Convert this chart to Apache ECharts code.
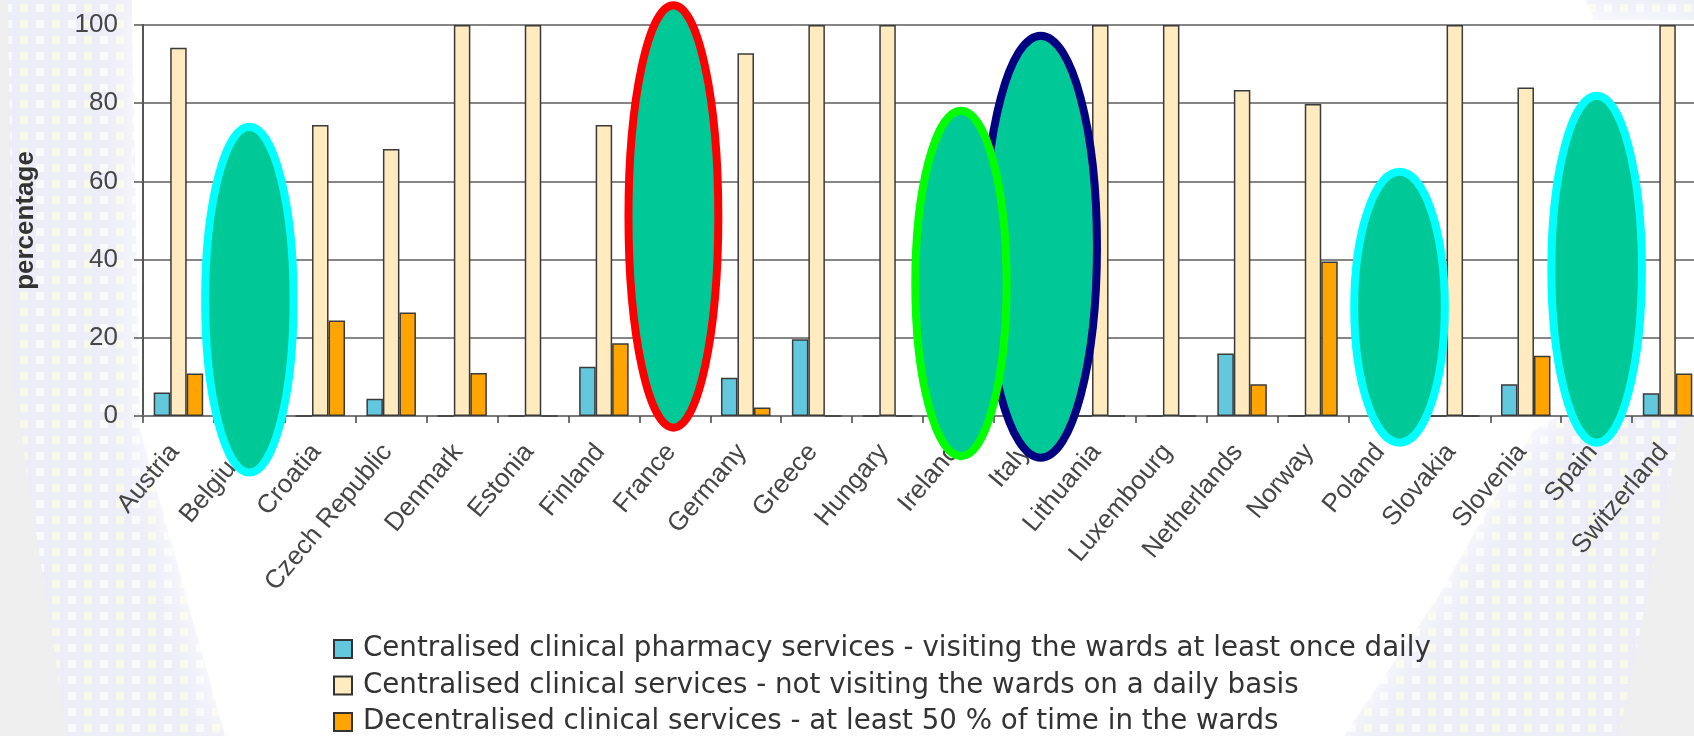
<!DOCTYPE html>
<html>
<head>
<meta charset="utf-8">
<script src="https://cdn.jsdelivr.net/npm/echarts@6/dist/echarts.min.js"></script>
<style>
html,body{margin:0;padding:0;background:#efefef;}
#c{width:1694px;height:736px;}
</style>
</head>
<body>
<div id="c"></div>
<script>
// ---------------- data ----------------
const categories = ['Austria','Belgium','Croatia','Czech Republic','Denmark','Estonia','Finland','France','Germany','Greece','Hungary','Ireland','Italy','Lithuania','Luxembourg','Netherlands','Norway','Poland','Slovakia','Slovenia','Spain','Switzerland'];
const seriesNames = [
  'Centralised clinical pharmacy services - visiting the wards at least once daily',
  'Centralised clinical services - not visiting the wards on a daily basis',
  'Decentralised clinical services - at least 50 % of time in the wards'
];
// null = hidden under the overlay ellipses
const centralisedDaily    = [6.0, null, 0, 4.4, 0, 0, 12.6, null, 9.8, 19.6, 0, null, null, 0, 0, 16.0, 0, null, 0, 8.1, null, 5.8];
const centralisedNotDaily = [94.2, null, 74.4, 68.3, 100, 100, 74.4, null, 92.8, 100, 100, null, null, 100, 100, 83.4, 79.8, null, 100, 84.0, null, 100];
const decentralised       = [10.9, null, 24.4, 26.5, 11.0, 0, 18.6, null, 2.2, 0, 0, null, null, 0, 0, 8.1, 39.5, null, 0, 15.4, null, 10.9];
const yTickValues = [0, 20, 40, 60, 80, 100];
const yAxisName = 'percentage';

// ---------------- styles ----------------
const colors = ['#62C8DE', '#FFEBBF', '#FFA400'];
const barBorder = '#3a3a3a';
const axisFont = 'Liberation Sans, Arial, sans-serif';

const chart = echarts.init(document.getElementById('c'), null, {renderer: 'canvas'});

function bar(name, data, color) {
  return {
    name: name,
    type: 'bar',
    data: data,
    barWidth: 16.5,
    barGap: '0%',
    itemStyle: {color: color, borderColor: barBorder, borderWidth: 1.5},
    emphasis: {disabled: true}
  };
}

const option = {
  animation: false,
  backgroundColor: '#EFEFEF',
  grid: {
    left: 143, right: -9, top: 25, bottom: 320,
    show: true, backgroundColor: '#ffffff', borderWidth: 0,
    containLabel: false, outerBoundsMode: 'none'
  },
  legend: {
    data: seriesNames,
    orient: 'vertical',
    left: 333, top: 635,
    height: 110,
    padding: 0,
    itemWidth: 18, itemHeight: 18, itemGap: 8.5,
    icon: 'rect',
    selectedMode: false,
    itemStyle: {borderColor: '#333', borderWidth: 2},
    textStyle: {fontFamily: 'DejaVu Sans, sans-serif', fontSize: 27.7, lineHeight: 27, color: '#333333', padding: [0, 0, 0, 6]}
  },
  xAxis: {
    type: 'category',
    data: categories,
    axisLine: {show: true, lineStyle: {color: '#7a7a7a', width: 2}},
    axisTick: {show: true, alignWithLabel: false, length: 7, lineStyle: {color: '#444', width: 1.5}},
    axisLabel: {interval: 0, rotate: 50, margin: 27, fontSize: 26, fontFamily: axisFont, color: '#454545', padding: [0, 6, 0, 0]},
    splitLine: {show: false}
  },
  yAxis: {
    type: 'value',
    min: yTickValues[0], max: yTickValues[yTickValues.length - 1], interval: yTickValues[1] - yTickValues[0],
    name: yAxisName,
    nameLocation: 'middle',
    nameRotate: 90,
    nameGap: 104,
    nameTextStyle: {fontFamily: axisFont, fontSize: 26, fontWeight: 'bold', color: '#333333'},
    axisLine: {show: true, lineStyle: {color: '#555', width: 2}},
    axisTick: {show: true, length: 9, lineStyle: {color: '#555', width: 1.5}},
    axisLabel: {margin: 25, fontSize: 26, fontFamily: axisFont, color: '#454545'},
    splitLine: {show: true, lineStyle: {color: '#868686', width: 2}}
  },
  series: [
    bar(seriesNames[0], centralisedDaily, colors[0]),
    bar(seriesNames[1], centralisedNotDaily, colors[1]),
    bar(seriesNames[2], decentralised, colors[2])
  ]
};
chart.setOption(option);

// ---------------- decorative background (slide pattern) ----------------
function makePattern() {
  const cv = document.createElement('canvas');
  cv.width = 32; cv.height = 16;
  const ctx = cv.getContext('2d');
  ctx.fillStyle = '#EDEDF8';
  ctx.fillRect(0, 0, 32, 16);
  ctx.fillStyle = '#FAFAFD';
  ctx.fillRect(4, 4, 8, 8);
  ctx.fillStyle = '#F9F9EA';
  ctx.fillRect(20, 4, 8, 8);
  return cv;
}
const patternCanvas = makePattern();

// ---------------- overlay ellipses, placed in data coordinates ----------------
// [category, offset in category widths, top value, bottom value, outer width in category widths, stroke]
const overlayEllipses = [
  ['Belgium', 0.0, 75.0, -15.5, 1.36, '#00FFFF'],
  ['France', -0.02, 106.1, -4.0, 1.38, '#FF0000'],
  ['Italy', 0.16, 98.3, -11.7, 1.70, '#000080'],
  ['Ireland', 0.035, 79.1, -11.3, 1.40, '#00FF00'],
  ['Poland', 0.22, 63.5, -7.85, 1.39, '#00FFFF'],
  ['Spain', 0.0, 82.9, -7.85, 1.39, '#00FFFF']
];

function drawOverlays() {
  const lw = 8;
  const a = chart.convertToPixel({gridIndex: 0}, [0, 0]);
  const b = chart.convertToPixel({gridIndex: 0}, [1, 0]);
  const catW = b[0] - a[0];
  const graphics = [
    {type: 'polygon', silent: true, z: -20,
     shape: {points: [[8,0],[1694,0],[1694,400],[1680,430],[1619,736],[67,736],[13,380]]},
     style: {fill: {image: patternCanvas, repeat: 'repeat'}}},
    {type: 'polygon', silent: true, z: -19,
     shape: {points: [[132,0],[1585,0],[1595,20],[1694,20],[1694,330],[1532,432],[1438,597],[1344,736],[225,736],[140,430]]},
     style: {fill: '#ffffff', shadowBlur: 40, shadowColor: 'rgba(255,255,255,0.9)'}}
  ];
  overlayEllipses.forEach(function (e) {
    const idx = categories.indexOf(e[0]);
    const top = chart.convertToPixel({gridIndex: 0}, [idx, e[2]]);
    const bot = chart.convertToPixel({gridIndex: 0}, [idx, e[3]]);
    const cx = top[0] + e[1] * catW;
    const cy = (top[1] + bot[1]) / 2;
    const ry = (bot[1] - top[1]) / 2 - lw / 2;
    const rx = e[4] * catW / 2 - lw / 2;
    graphics.push({
      type: 'ellipse', silent: true, z: 100,
      shape: {cx: cx, cy: cy, rx: rx, ry: ry},
      style: {fill: '#00C997', stroke: e[5], lineWidth: lw}
    });
  });
  chart.setOption({graphic: graphics});
}
drawOverlays();
</script>
</body>
</html>
